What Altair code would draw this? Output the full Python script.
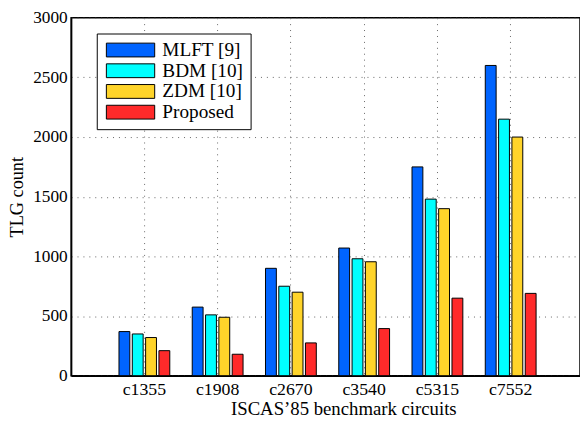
import altair as alt
import pandas as pd

categories = ["c1355", "c1908", "c2670", "c3540", "c5315", "c7552"]
series = ["MLFT [9]", "BDM [10]", "ZDM [10]", "Proposed"]
mlft = [370, 575, 900, 1070, 1750, 2600]
bdm = [350, 510, 750, 980, 1480, 2150]
zdm = [320, 490, 700, 955, 1400, 2000]
proposed = [210, 180, 275, 395, 650, 690]
colors = ["#0064FF", "#00FFFF", "#FFD42A", "#FF2A2A"]
y_ticks = [0, 500, 1000, 1500, 2000, 2500, 3000]

rows = []
for i, c in enumerate(categories):
    for s, vals in zip(series, [mlft, bdm, zdm, proposed]):
        rows.append({"circuit": c, "method": s, "count": vals[i]})
df = pd.DataFrame(rows)

FONT = "Liberation Serif"

chart = alt.Chart(df).mark_bar(stroke="black", strokeWidth=1).encode(
    x=alt.X(
        "circuit:N", sort=categories,
        scale=alt.Scale(range=[0, 520], paddingInner=0.27, paddingOuter=0.635),
        axis=alt.Axis(title="ISCAS’85 benchmark circuits", labelAngle=0, grid=True,
                      gridDash=[1, 5], gridColor="#666", gridWidth=1, ticks=False,
                      domainColor="black", domainWidth=1.5, labelPadding=5,
                      labelFontSize=18, titleFontSize=19,
                      titlePadding=1, titleX=276, bandPosition=0.5),
    ),
    xOffset=alt.XOffset("method:N", sort=series,
                        scale=alt.Scale(paddingInner=0.185, paddingOuter=0.1)),
    y=alt.Y(
        "count:Q", scale=alt.Scale(domain=[0, 3000], nice=False),
        axis=alt.Axis(title="TLG count", values=y_ticks, format="d", grid=True,
                      gridDash=[1, 5], gridColor="#666", gridWidth=1, ticks=False,
                      domainColor="black", domainWidth=1.5, labelPadding=4,
                      labelFontSize=17.5, titleFontSize=18.5, titlePadding=6),
    ),
    color=alt.Color(
        "method:N", sort=series,
        scale=alt.Scale(domain=series, range=colors),
        legend=alt.Legend(title=None, orient="none", legendX=26, legendY=16,
                          fillColor="white", strokeColor="black", padding=7,
                          symbolType="M-1,-1H6V1H-1Z", symbolSize=196,
                          symbolStrokeColor="black", symbolStrokeWidth=1,
                          symbolOpacity=1, labelFontSize=19.5, labelFont=FONT,
                          labelColor="black", rowPadding=0, labelOffset=40),
    ),
).properties(
    width=516, height=363,
    autosize=alt.AutoSizeParams(type="none"),
    padding={"left": 64, "top": 7, "right": 0, "bottom": 40},
).configure_view(
    stroke="black", strokeWidth=1.5
).configure_axis(
    labelFont=FONT, titleFont=FONT,
    labelColor="black", titleColor="black", titleFontWeight="normal",
)

chart.save("out.html", embed_options={"renderer": "svg", "actions": False})
